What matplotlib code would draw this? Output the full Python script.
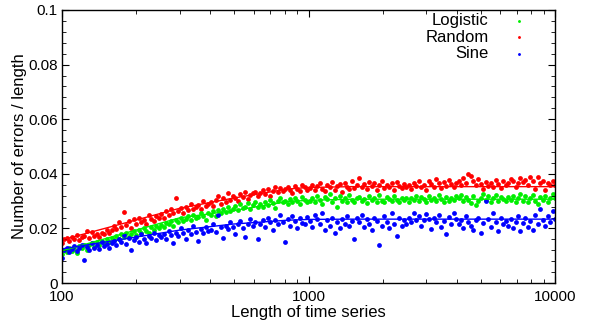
import matplotlib
matplotlib.use("Agg")
import matplotlib.pyplot as plt
from matplotlib.ticker import LogLocator, NullFormatter, FixedLocator, FixedFormatter, MultipleLocator
import numpy as np

plt.rcParams['font.family'] = ['Liberation Sans', 'DejaVu Sans']

# time series lengths (log-spaced grid, 200 lengths per method)
n_pts = 200
lengths = np.geomspace(100, 10000, n_pts)

random_err = [
    0.0148, 0.0160, 0.0165, 0.0155, 0.0170, 0.0162, 0.0175, 0.0158, 0.0168, 0.0172,
    0.0190, 0.0166, 0.0188, 0.0174, 0.0180, 0.0169, 0.0185, 0.0178, 0.0195, 0.0182,
    0.0193, 0.0210, 0.0198, 0.0222, 0.0205, 0.0260, 0.0212, 0.0228, 0.0200, 0.0235,
    0.0218, 0.0240, 0.0225, 0.0231, 0.0215, 0.0248, 0.0236, 0.0227, 0.0245, 0.0238,
    0.0252, 0.0240, 0.0265, 0.0248, 0.0270, 0.0258, 0.0310, 0.0262, 0.0275, 0.0255,
    0.0280, 0.0268, 0.0290, 0.0272, 0.0278, 0.0285, 0.0270, 0.0300, 0.0282, 0.0288,
    0.0295, 0.0283, 0.0305, 0.0320, 0.0290, 0.0312, 0.0298, 0.0330, 0.0305, 0.0318,
    0.0310, 0.0300, 0.0325, 0.0315, 0.0332, 0.0308, 0.0322, 0.0328, 0.0335, 0.0318,
    0.0330, 0.0340, 0.0325, 0.0345, 0.0320, 0.0338, 0.0350, 0.0332, 0.0348, 0.0336,
    0.0343, 0.0352, 0.0340, 0.0330, 0.0355, 0.0346, 0.0338, 0.0360, 0.0350, 0.0342,
    0.0348, 0.0360, 0.0340, 0.0355, 0.0365, 0.0345, 0.0338, 0.0358, 0.0350, 0.0370,
    0.0342, 0.0355, 0.0362, 0.0335, 0.0368, 0.0352, 0.0345, 0.0375, 0.0348, 0.0358,
    0.0385, 0.0350, 0.0362, 0.0345, 0.0370, 0.0355, 0.0368, 0.0340, 0.0358, 0.0372,
    0.0347, 0.0360, 0.0353, 0.0365, 0.0342, 0.0370, 0.0357, 0.0348, 0.0363, 0.0352,
    0.0360, 0.0345, 0.0368, 0.0355, 0.0372, 0.0350, 0.0358, 0.0340, 0.0375, 0.0362,
    0.0353, 0.0380, 0.0365, 0.0348, 0.0370, 0.0357, 0.0378, 0.0362, 0.0350, 0.0368,
    0.0372, 0.0360, 0.0385, 0.0365, 0.0398, 0.0392, 0.0375, 0.0358, 0.0380, 0.0362,
    0.0345, 0.0370, 0.0355, 0.0368, 0.0350, 0.0378, 0.0362, 0.0348, 0.0372, 0.0358,
    0.0365, 0.0380, 0.0375, 0.0352, 0.0368, 0.0385, 0.0370, 0.0378, 0.0360, 0.0390,
    0.0372, 0.0345, 0.0388, 0.0365, 0.0375, 0.0340, 0.0368, 0.0360, 0.0372, 0.0358,
]

logistic_err = [
    0.0105, 0.0120, 0.0112, 0.0130, 0.0118, 0.0125, 0.0110, 0.0135, 0.0128, 0.0140,
    0.0122, 0.0138, 0.0145, 0.0132, 0.0150, 0.0140, 0.0155, 0.0148, 0.0160, 0.0152,
    0.0165, 0.0158, 0.0172, 0.0162, 0.0180, 0.0170, 0.0185, 0.0168, 0.0178, 0.0190,
    0.0175, 0.0195, 0.0185, 0.0200, 0.0190, 0.0182, 0.0205, 0.0195, 0.0210, 0.0200,
    0.0212, 0.0205, 0.0220, 0.0215, 0.0228, 0.0210, 0.0232, 0.0222, 0.0240, 0.0228,
    0.0235, 0.0245, 0.0230, 0.0250, 0.0238, 0.0242, 0.0255, 0.0245, 0.0230, 0.0258,
    0.0250, 0.0262, 0.0245, 0.0268, 0.0255, 0.0272, 0.0260, 0.0278, 0.0265, 0.0270,
    0.0282, 0.0268, 0.0288, 0.0275, 0.0280, 0.0292, 0.0270, 0.0285, 0.0295, 0.0278,
    0.0290, 0.0280, 0.0298, 0.0285, 0.0305, 0.0292, 0.0275, 0.0300, 0.0310, 0.0295,
    0.0302, 0.0288, 0.0308, 0.0296, 0.0312, 0.0300, 0.0290, 0.0315, 0.0303, 0.0298,
    0.0300, 0.0312, 0.0295, 0.0320, 0.0305, 0.0290, 0.0315, 0.0308, 0.0325, 0.0298,
    0.0310, 0.0280, 0.0318, 0.0302, 0.0312, 0.0295, 0.0322, 0.0305, 0.0298, 0.0310,
    0.0315, 0.0300, 0.0308, 0.0292, 0.0318, 0.0305, 0.0312, 0.0298, 0.0322, 0.0302,
    0.0295, 0.0315, 0.0308, 0.0300, 0.0318, 0.0305, 0.0296, 0.0312, 0.0303, 0.0310,
    0.0298, 0.0312, 0.0305, 0.0320, 0.0300, 0.0315, 0.0308, 0.0295, 0.0318, 0.0305,
    0.0312, 0.0300, 0.0322, 0.0308, 0.0296, 0.0315, 0.0302, 0.0310, 0.0305, 0.0318,
    0.0310, 0.0322, 0.0300, 0.0315, 0.0305, 0.0292, 0.0318, 0.0285, 0.0300, 0.0312,
    0.0325, 0.0305, 0.0318, 0.0298, 0.0310, 0.0322, 0.0302, 0.0315, 0.0308, 0.0300,
    0.0315, 0.0305, 0.0320, 0.0298, 0.0312, 0.0325, 0.0302, 0.0318, 0.0295, 0.0310,
    0.0322, 0.0300, 0.0288, 0.0315, 0.0305, 0.0320, 0.0298, 0.0312, 0.0325, 0.0310,
]

sine_err = [
    0.0090, 0.0120, 0.0130, 0.0115, 0.0125, 0.0135, 0.0118, 0.0128, 0.0140, 0.0085,
    0.0132, 0.0122, 0.0145, 0.0130, 0.0138, 0.0125, 0.0150, 0.0135, 0.0142, 0.0128,
    0.0145, 0.0155, 0.0138, 0.0160, 0.0150, 0.0175, 0.0142, 0.0165, 0.0120, 0.0158,
    0.0170, 0.0152, 0.0180, 0.0162, 0.0148, 0.0172, 0.0165, 0.0185, 0.0158, 0.0175,
    0.0168, 0.0180, 0.0162, 0.0190, 0.0175, 0.0145, 0.0185, 0.0172, 0.0200, 0.0182,
    0.0160, 0.0195, 0.0178, 0.0210, 0.0188, 0.0155, 0.0198, 0.0185, 0.0205, 0.0192,
    0.0195, 0.0215, 0.0188, 0.0250, 0.0205, 0.0165, 0.0210, 0.0198, 0.0225, 0.0205,
    0.0180, 0.0215, 0.0228, 0.0200, 0.0170, 0.0218, 0.0235, 0.0210, 0.0225, 0.0160,
    0.0218, 0.0230, 0.0205, 0.0240, 0.0225, 0.0195, 0.0232, 0.0215, 0.0250, 0.0222,
    0.0150, 0.0235, 0.0210, 0.0245, 0.0228, 0.0200, 0.0238, 0.0220, 0.0215, 0.0242,
    0.0228, 0.0205, 0.0248, 0.0235, 0.0215, 0.0255, 0.0195, 0.0230, 0.0210, 0.0240,
    0.0185, 0.0225, 0.0200, 0.0235, 0.0218, 0.0245, 0.0208, 0.0228, 0.0160, 0.0238,
    0.0222, 0.0250, 0.0205, 0.0235, 0.0215, 0.0195, 0.0240, 0.0228, 0.0140, 0.0210,
    0.0245, 0.0225, 0.0200, 0.0255, 0.0218, 0.0172, 0.0238, 0.0208, 0.0230, 0.0215,
    0.0240, 0.0225, 0.0258, 0.0232, 0.0245, 0.0210, 0.0230, 0.0252, 0.0235, 0.0198,
    0.0238, 0.0222, 0.0248, 0.0205, 0.0228, 0.0180, 0.0242, 0.0215, 0.0258, 0.0235,
    0.0218, 0.0232, 0.0200, 0.0245, 0.0225, 0.0210, 0.0195, 0.0230, 0.0240, 0.0185,
    0.0220, 0.0300, 0.0235, 0.0205, 0.0255, 0.0225, 0.0190, 0.0238, 0.0215, 0.0228,
    0.0210, 0.0235, 0.0200, 0.0225, 0.0245, 0.0190, 0.0220, 0.0238, 0.0205, 0.0228,
    0.0195, 0.0250, 0.0215, 0.0270, 0.0232, 0.0210, 0.0245, 0.0225, 0.0262, 0.0235,
]

# fitted curves
fit_x = [100, 301, 495, 817, 1000, 1500, 10000]
random_fit = [0.0158, 0.0274, 0.0311, 0.0344, 0.0350, 0.0353, 0.0353]
logistic_fit = [0.0118, 0.0239, 0.0265, 0.0298, 0.0303, 0.0307, 0.0307]
sine_fit = [0.0125, 0.0194, 0.0216, 0.0230, 0.0233, 0.0234, 0.0234]

y_ticks = [0, 0.02, 0.04, 0.06, 0.08, 0.1]
y_tick_labels = ['0', '0.02', '0.04', '0.06', '0.08', '0.1']
x_ticks = [100, 1000, 10000]
x_tick_labels = ['100', '1000', '10000']

fig = plt.figure(figsize=(5.9, 3.22), dpi=100)
ax = fig.add_axes([0.105, 0.121, 0.836, 0.848])

sr = ax.scatter(lengths, random_err, s=12, c='#ff0000', linewidths=0, label='Random')
sl = ax.scatter(lengths, logistic_err, s=12, c='#00ee00', linewidths=0, label='Logistic')
ss = ax.scatter(lengths, sine_err, s=12, c='#0000ff', linewidths=0, label='Sine')
ax.plot(fit_x, random_fit, color='#ff0000', lw=1)
ax.plot(fit_x, logistic_fit, color='#00ee00', lw=1)
ax.plot(fit_x, sine_fit, color='#0000ff', lw=1)

ax.set_xscale('log')
ax.set_xlim(100, 10000)
ax.set_ylim(0, 0.1)
ax.xaxis.set_major_locator(FixedLocator(x_ticks))
ax.xaxis.set_major_formatter(FixedFormatter(x_tick_labels))
ax.xaxis.set_minor_locator(LogLocator(base=10, subs=np.arange(2, 10)))
ax.xaxis.set_minor_formatter(NullFormatter())
ax.yaxis.set_major_locator(FixedLocator(y_ticks))
ax.yaxis.set_major_formatter(FixedFormatter(y_tick_labels))
ax.yaxis.set_minor_locator(MultipleLocator(0.004))

ax.tick_params(which='both', direction='in', top=True, right=True, labelsize=11)
ax.tick_params(axis='x', pad=5)
ax.tick_params(axis='y', pad=3)
ax.tick_params(which='major', length=5)
ax.tick_params(which='minor', length=3)
for sp in ax.spines.values():
    sp.set_linewidth(1)

ax.set_xlabel('Length of time series', fontsize=12, labelpad=1)
ax.set_ylabel('Number of errors / length', fontsize=12, labelpad=1)

ax.legend(handles=[sl, sr, ss], loc='upper right', bbox_to_anchor=(0.98, 1.025),
          frameon=False, markerfirst=False, fontsize=12, markerscale=0.6,
          handletextpad=0.8, labelspacing=0.1, borderaxespad=0.2)

fig.savefig('out.png', dpi=100)
